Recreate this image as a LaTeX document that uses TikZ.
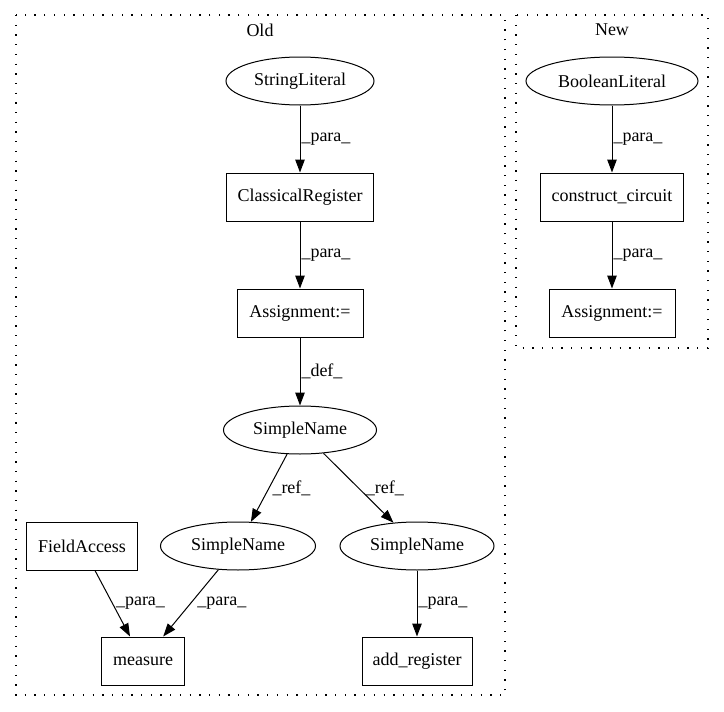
\documentclass[tikz,border=0pt]{standalone}
\usepackage{fontspec}
\setmainfont{Liberation Serif}
\usetikzlibrary{shapes.geometric,arrows.meta}

\begin{document}
\begin{tikzpicture}[x=1pt,y=-1pt,
   every node/.style={font=\fontsize{18}{21}\selectfont},
   box/.style={draw,line width=1pt,minimum height=48pt,inner sep=0pt},
   oval/.style={draw,ellipse,line width=1pt,minimum height=48pt,inner sep=0pt},
   edge/.style={-{Triangle[length=13pt,width=9.5pt]},line width=1pt},
   lbl/.style={midway,anchor=west,inner sep=1pt},
   cluster/.style={line width=1.3pt,dash pattern=on 1.3pt off 8.4pt}]
   \useasboundingbox (0,0) rectangle (724,712);
   % clusters
   \draw[cluster] (16,15) rectangle (505,695);
   \draw[cluster] (516,15) rectangle (708,348);
   \node (oldlbl) at (260,30) {Old};
   \node (newlbl) at (612,30) {New};
   % old
   \node[oval,minimum width=148pt] (stringlit) at (300,81) {StringLiteral};
   \node[box,minimum width=147pt] (classreg) at (300,197) {ClassicalRegister};
   \node[box,minimum width=126pt] (assignold) at (300,313) {Assignment:=};
   \node[oval,minimum width=153pt] (simplename) at (300,430) {SimpleName};
   \node[oval,minimum width=155pt] (simpleleft) at (238,546) {SimpleName};
   \node[oval,minimum width=154pt] (simpleright) at (417,546) {SimpleName};
   \node[box,minimum width=111pt] (fieldacc) at (82,546) {FieldAccess};
   \node[box,minimum width=83pt] (measure) at (143,661) {measure};
   \node[box,minimum width=110pt] (addreg) at (417,661) {add\_register};
   % new
   \node[oval,minimum width=172pt] (boollit) at (612,81) {BooleanLiteral};
   \node[box,minimum width=143pt] (constrcirc) at (612,197) {construct\_circuit};
   \node[box,minimum width=126pt] (assignnew) at (612,313) {Assignment:=};
   % edges
   \draw[edge] (stringlit) -- (classreg) node[lbl] {\_para\_};
   \draw[edge] (classreg) -- (assignold) node[lbl] {\_para\_};
   \draw[edge] (assignold) -- (simplename) node[lbl] {\_def\_};
   \draw[edge] (simplename) -- (simpleleft) node[lbl,xshift=2pt] {\_ref\_};
   \draw[edge] (simplename) -- (simpleright) node[lbl,xshift=6pt] {\_ref\_};
   \draw[edge] (fieldacc) -- (measure) node[lbl,xshift=2pt] {\_para\_};
   \draw[edge] (simpleleft) -- (measure) node[lbl,xshift=5pt] {\_para\_};
   \draw[edge] (simpleright) -- (addreg) node[lbl] {\_para\_};
   \draw[edge] (boollit) -- (constrcirc) node[lbl] {\_para\_};
   \draw[edge] (constrcirc) -- (assignnew) node[lbl] {\_para\_};
\end{tikzpicture}
\end{document}
